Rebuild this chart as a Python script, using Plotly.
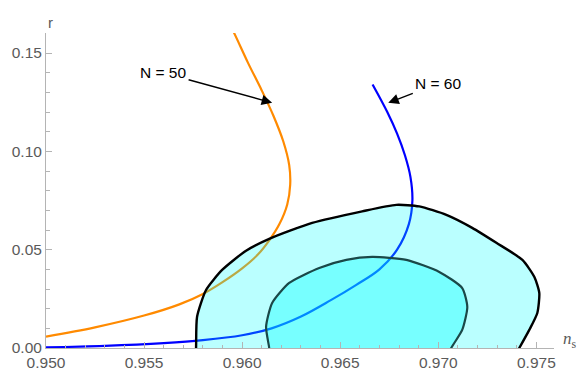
import plotly.graph_objects as go

# N = 50 curve (orange)
n50_ns = [0.9500, 0.9525, 0.9550, 0.9568, 0.9580, 0.9590, 0.9600, 0.9608, 0.9614, 0.9619,
          0.9623, 0.96245, 0.9624, 0.9621, 0.9616, 0.9610, 0.9603, 0.9596, 0.9592]
n50_r = [0.0058, 0.0105, 0.0165, 0.0222, 0.0275, 0.0335, 0.0405, 0.0475, 0.0550, 0.0630,
         0.0730, 0.0830, 0.0930, 0.1050, 0.1180, 0.1310, 0.1450, 0.1600, 0.1680]

# N = 60 curve (blue)
n60_ns = [0.9500, 0.9530, 0.9560, 0.9580, 0.9600, 0.9615, 0.9630, 0.9645, 0.9658, 0.9670,
          0.9679, 0.9685, 0.96868, 0.96858, 0.9683, 0.9679, 0.9674, 0.96665]
n60_r = [0.0003, 0.0011, 0.0025, 0.0040, 0.0065, 0.0100, 0.0160, 0.0242, 0.0320, 0.0400,
         0.0500, 0.0630, 0.0750, 0.0870, 0.0980, 0.1090, 0.1200, 0.1340]

# 2-sigma contour (outer)
outer_ns = [0.95762, 0.95765, 0.9577, 0.95816, 0.95898, 0.9602, 0.96138, 0.96357, 0.96612,
            0.96786, 0.96903, 0.97041, 0.97173, 0.97296, 0.97429, 0.9749, 0.97515, 0.97505,
            0.97464, 0.97413, 0.9739]
outer_r = [-0.004, 0.0, 0.0158, 0.0295, 0.0397, 0.0495, 0.0555, 0.0636, 0.0695,
           0.0728, 0.0720, 0.0677, 0.0611, 0.0535, 0.0448, 0.0361, 0.0280, 0.0178,
           0.0092, 0.0, -0.004]

# 1-sigma contour (inner)
inner_ns = [0.96140, 0.96138, 0.96122, 0.96153, 0.9624, 0.96393, 0.96531, 0.96663, 0.96837,
            0.97005, 0.97122, 0.97148, 0.97122, 0.97066, 0.9705]
inner_r = [-0.004, 0.0, 0.0107, 0.0229, 0.0331, 0.0407, 0.0448, 0.0463, 0.0448,
           0.0387, 0.0305, 0.0209, 0.0092, 0.0, -0.004]

x_major = [0.950, 0.955, 0.960, 0.965, 0.970, 0.975]
x_labels = ["0.950", "0.955", "0.960", "0.965", "0.970", "0.975"]
y_major = [0.00, 0.05, 0.10, 0.15]
y_labels = ["0.00", "0.05", "0.10", "0.15"]

fig = go.Figure()
fig.add_trace(go.Scatter(x=n50_ns, y=n50_r, mode="lines", line=dict(color="#ff8a00", width=2.2, shape="spline"),
                         showlegend=False, hoverinfo="skip"))
fig.add_trace(go.Scatter(x=n60_ns, y=n60_r, mode="lines", line=dict(color="#0000ff", width=2.2, shape="spline"),
                         showlegend=False, hoverinfo="skip"))
fig.add_trace(go.Scatter(x=outer_ns, y=outer_r, mode="lines", fill="toself",
                         fillcolor="rgba(0,255,255,0.27)",
                         line=dict(color="black", width=2.4, shape="spline", smoothing=0.6),
                         showlegend=False, hoverinfo="skip"))
fig.add_trace(go.Scatter(x=inner_ns, y=inner_r, mode="lines", fill="toself",
                         fillcolor="rgba(0,255,255,0.36)",
                         line=dict(color="#1a4848", width=2.2, shape="spline", smoothing=0.6),
                         showlegend=False, hoverinfo="skip"))

axis_col = "#b4b4b4"
tick_font = dict(family="Liberation Sans, Arial, sans-serif", size=15.5, color="#5a5a5a")

fig.update_xaxes(range=[0.95, 0.9759], showgrid=False, zeroline=False, showline=True, automargin=False,
                 linecolor=axis_col, linewidth=1, ticks="inside", ticklen=6, tickcolor=axis_col,
                 tickvals=x_major, ticktext=x_labels, tickfont=tick_font,
                 minor=dict(dtick=0.001, tick0=0.95, ticks="inside", ticklen=3.5, tickcolor=axis_col, showgrid=False))
fig.update_yaxes(range=[0, 0.1602], showgrid=False, zeroline=False, showline=True, automargin=False,
                 linecolor=axis_col, linewidth=1, ticks="inside", ticklen=6, tickcolor=axis_col,
                 tickvals=y_major, ticktext=y_labels, tickfont=tick_font,
                 minor=dict(dtick=0.01, tick0=0, ticks="inside", ticklen=3.5, tickcolor=axis_col, showgrid=False))

ann_font = dict(family="Liberation Sans, Arial, sans-serif", size=15.5, color="black")
fig.add_annotation(x=0.96153, y=0.1247, ax=0.95597, ay=0.1400, axref="x", ayref="y",
                   text="N = 50", showarrow=True, arrowhead=2, arrowsize=1.5, arrowwidth=1.4,
                   arrowcolor="black", font=ann_font, borderpad=2)
fig.add_annotation(x=0.96745, y=0.1247, ax=0.97000, ay=0.1344, axref="x", ayref="y",
                   text="N = 60", showarrow=True, arrowhead=2, arrowsize=1.5, arrowwidth=1.4,
                   arrowcolor="black", font=ann_font, borderpad=2)

fig.add_annotation(xref="paper", yref="paper", x=0.0, y=1.068, text="r", showarrow=False,
                   font=dict(family="Liberation Sans, Arial, sans-serif", size=15, color="#5a5a5a"))
fig.add_annotation(xref="paper", yref="paper", x=1.031, y=-0.015, text="<i>n</i><sub>s</sub>",
                   showarrow=False, xanchor="center",
                   font=dict(family="Liberation Serif, Times New Roman, serif", size=17, color="#5a5a5a"))

fig.update_layout(width=582, height=371, margin=dict(l=46, r=28, t=33, b=23),
                  plot_bgcolor="white", paper_bgcolor="white")

fig.write_html("out.html")
